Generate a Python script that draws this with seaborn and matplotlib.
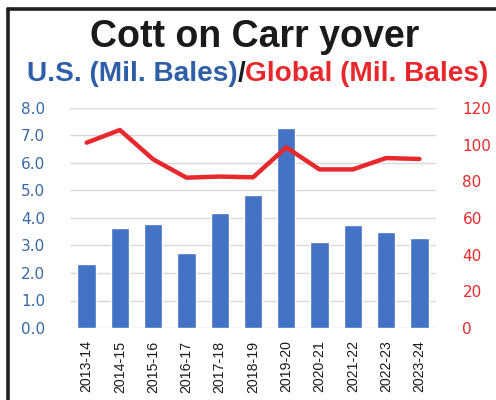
import matplotlib
matplotlib.use('Agg')
import matplotlib.pyplot as plt
import seaborn as sns
import pandas as pd
from matplotlib.lines import Line2D

# ---- data ----
seasons = ['2013-14', '2014-15', '2015-16', '2016-17', '2017-18', '2018-19',
           '2019-20', '2020-21', '2021-22', '2022-23', '2023-24']
us_bales = [2.33, 3.64, 3.78, 2.73, 4.18, 4.84, 7.26, 3.13, 3.73, 3.48, 3.27]
global_bales = [101.1, 108.0, 92.0, 82.0, 82.6, 82.2, 98.5, 86.5, 86.5, 92.7, 92.2]
left_ticks = [0.0, 1.0, 2.0, 3.0, 4.0, 5.0, 6.0, 7.0, 8.0]
right_ticks = [0, 20, 40, 60, 80, 100, 120]
title = 'Cott on Carr yover'
sub_us = 'U.S. (Mil. Bales)'
sub_sep = '/'
sub_global = 'Global (Mil. Bales)'

BLUE_BAR = '#4472c4'
BLUE_TXT = '#2f5ea8'
RED = '#e8282c'

sns.set_theme(style='white')
plt.rcParams['font.family'] = ['DejaVu Sans']

W, H = 496, 400
fig = plt.figure(figsize=(W / 100, H / 100), dpi=100)
fig.patch.set_facecolor('white')

ax = fig.add_axes([70 / W, 1 - 328 / H, (436 - 70) / W, (328 - 108) / H])
df = pd.DataFrame({'season': seasons, 'us': us_bales, 'global': global_bales})

sns.barplot(data=df, x='season', y='us', color=BLUE_BAR, saturation=1,
            width=0.55, ax=ax)
ax.set_ylim(0, 8)
ax.set_yticks(left_ticks)
ax.set_yticklabels([f'{v:.1f}' for v in left_ticks])
ax.set_xlim(-0.5, len(seasons) - 0.5)
ax.grid(axis='y', color='#d9d9d9', lw=1)
ax.grid(axis='x', visible=False)
ax.set_axisbelow(True)
for s in ax.spines.values():
    s.set_visible(False)
ax.tick_params(axis='y', length=0, pad=18, labelcolor='#3a67a8', labelsize=11)
ax.tick_params(axis='x', length=0, pad=9, labelrotation=90, labelcolor='#1a1a1a')
for lbl in ax.get_xticklabels():
    lbl.set_family('Liberation Sans')
    lbl.set_fontsize(10.2)
ax.set_xlabel('')
ax.set_ylabel('')

ax2 = ax.twinx()
sns.lineplot(data=df, x='season', y='global', color=RED, lw=3.2, ax=ax2,
             solid_capstyle='round', sort=False)
ax2.set_ylim(0, 120)
ax2.set_yticks(right_ticks)
ax2.set_yticklabels([str(v) for v in right_ticks])
ax2.set_xlim(-0.5, len(seasons) - 0.5)
for s in ax2.spines.values():
    s.set_visible(False)
ax2.grid(False)
ax2.tick_params(axis='y', length=0, pad=19, labelcolor=RED, labelsize=11)
ax2.set_ylabel('')
ax2.set_xlabel('')

# ---- title ----
fig.text(255 / W, 1 - 47 / H, title, ha='center', va='baseline',
         fontsize=27, fontweight='bold', family='Liberation Sans', color='#1a1a1a')

# ---- multi-colour subtitle, fitted to the reference width ----
renderer = fig.canvas.get_renderer()
pieces = [(sub_us, BLUE_TXT), (sub_sep, '#1a1a1a'), (sub_global, RED)]
texts = [fig.text(0, 1 - 81 / H, txt, ha='left', va='baseline', fontsize=24,
                  fontweight='bold', family='Liberation Sans', color=col)
         for txt, col in pieces]
total = sum(t.get_window_extent(renderer=renderer).width for t in texts)
size = 24 * (461 / total)
x = 27
for t in texts:
    t.set_fontsize(size)
    t.set_x(x / W)
    x += t.get_window_extent(renderer=renderer).width

# ---- frame ----
fig.add_artist(Line2D([8 / W, 8 / W], [0, 1 - 9 / H], transform=fig.transFigure,
                      color='#231f20', lw=2.6))
fig.add_artist(Line2D([8 / W, 1], [1 - 9 / H, 1 - 9 / H], transform=fig.transFigure,
                      color='#231f20', lw=2.6))

fig.savefig('out.png', dpi=100)
